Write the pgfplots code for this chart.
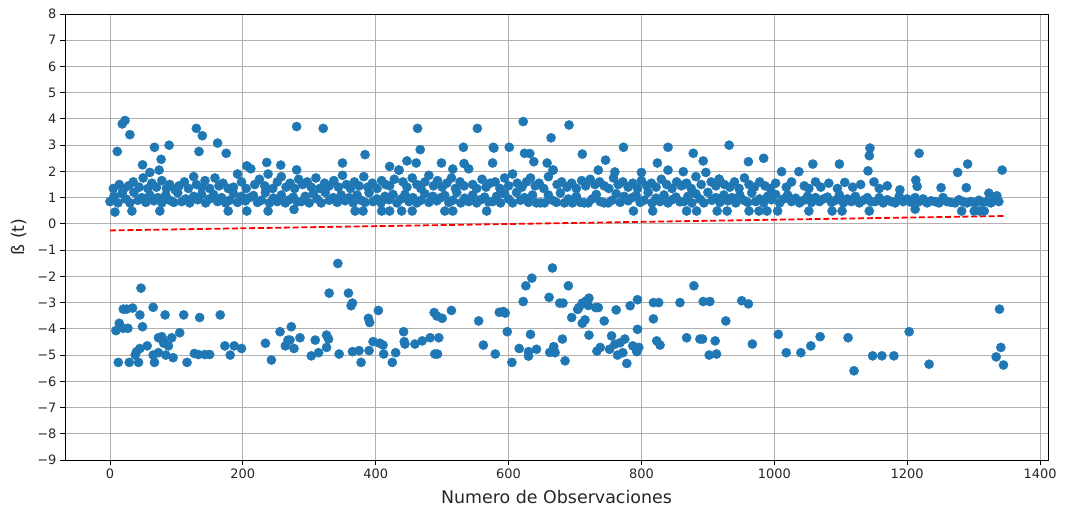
\documentclass[border=0pt]{standalone}
\usepackage{fontspec}
\setmainfont{DejaVu Sans}
\usepackage{pgfplots}
\pgfplotsset{compat=1.18}
\definecolor{mplblue}{HTML}{1F77B4}
\definecolor{gridgray}{HTML}{B0B0B0}
\begin{document}
\begin{tikzpicture}
\useasboundingbox (0,0) rectangle (1067bp,510bp);
\begin{axis}[
  at={(65bp,50bp)}, anchor=south west,
  scale only axis, width=983bp, height=446bp,
  xmin=-67.7, xmax=1412, ymin=-9, ymax=8,
  xtick={0,200,...,1400},
  ytick={-9,-8,...,8},
  yticklabels={−9,−8,−7,−6,−5,−4,−3,−2,−1,0,1,2,3,4,5,6,7,8},
  /pgf/number format/assume math mode=true,
  /pgf/number format/1000 sep={},
  tick label style={font=\fontsize{13}{15}\selectfont, color=black!85},
  grid=major,
  major grid style={gridgray, line width=0.9bp},
  axis line style={black, line width=0.9bp},
  tick style={black, line width=0.9bp},
  tick align=outside, major tick length=5bp,
  xtick pos=bottom, ytick pos=left,
  xlabel={Numero de Observaciones},
  ylabel={ß (t)},
  label style={font=\fontsize{17.5}{20}\selectfont, color=black!85},
  xlabel style={at={(axis description cs:0.5,-0.083)}, anchor=center},
  ylabel style={at={(axis description cs:-0.0468,0.5)}, anchor=center},
]
%% dense band around 1
\addplot[only marks, mark=*, mark size=4.6bp, mplblue, mark options={draw=mplblue, fill=mplblue}] coordinates {
(0,0.85)(6,1.05)(12,0.80)(18,1.15)(24,0.95)(30,0.80)(36,1.20)(42,0.90)(48,1.00)(54,0.82)(60,1.10)(66,0.88)
(72,1.00)(78,0.80)(84,1.10)(90,0.90)(96,0.82)(102,1.18)(108,0.85)(114,0.95)(120,0.80)(126,1.05)(132,0.92)(138,1.12)
(144,0.80)(150,0.95)(156,1.12)(162,0.85)(168,1.00)(174,0.80)(180,0.90)(186,1.15)(192,0.82)(198,1.05)(204,0.88)(210,1.00)
(216,1.08)(222,0.82)(228,0.90)(234,1.20)(240,0.80)(246,0.98)(252,0.85)(258,1.10)(264,0.80)(270,0.92)(276,1.02)(282,0.84)
(288,0.85)(294,1.05)(300,0.80)(306,1.15)(312,0.95)(318,0.80)(324,1.20)(330,0.90)(336,1.00)(342,0.82)(348,1.10)(354,0.88)
(360,1.00)(366,0.80)(372,1.10)(378,0.90)(384,0.82)(390,1.18)(396,0.85)(402,0.95)(408,0.80)(414,1.05)(420,0.92)(426,1.12)
(432,0.80)(438,0.95)(444,1.12)(450,0.85)(456,1.00)(462,0.80)(468,0.90)(474,1.15)(480,0.82)(486,1.05)(492,0.88)(498,1.00)
(504,1.08)(510,0.82)(516,0.90)(522,1.20)(528,0.80)(534,0.98)(540,0.85)(546,1.10)(552,0.80)(558,0.92)(564,1.02)(570,0.84)
(576,0.85)(582,1.05)(588,0.80)(594,1.15)(600,0.95)(606,0.80)(612,1.20)(618,0.90)(624,1.00)(630,0.82)(636,1.10)(642,0.80)
(648,0.80)(654,0.80)(660,1.10)(666,0.90)(672,0.82)(678,1.18)(684,0.80)(690,0.95)(696,0.80)(702,1.05)(708,0.82)(714,0.80)
(720,0.80)(726,0.95)(732,1.12)(738,0.85)(744,0.80)(750,0.80)(756,0.90)(762,1.15)(768,0.82)(774,1.05)(780,0.88)(786,1.00)
(792,1.08)(798,0.82)(804,0.90)(810,1.20)(816,0.80)(822,0.98)(828,0.85)(834,1.10)(840,0.80)(846,0.92)(852,1.02)(858,0.84)
(864,0.85)(870,1.05)(876,0.80)(882,1.15)(888,0.95)(894,0.80)(900,1.20)(906,0.90)(912,1.00)(918,0.82)(924,1.10)(930,0.88)
(936,1.00)(942,0.80)(948,1.10)(954,0.90)(960,0.82)(966,1.18)(972,0.85)(978,0.95)(984,0.80)(990,1.05)(996,0.92)(1002,1.12)
(1008,0.80)(1014,0.95)(1020,1.10)(1026,0.85)(1032,0.98)(1038,0.80)(1044,0.90)(1050,1.05)(1056,0.82)(1062,1.00)(1068,0.85)(1074,0.95)
(1080,1.02)(1086,0.82)(1092,0.90)(1098,1.10)(1104,0.80)(1110,0.95)(1116,0.85)(1122,1.05)(1128,0.80)(1134,0.90)(1140,1.00)(1146,0.84)
(1152,0.85)(1158,1.00)(1164,0.80)(1170,0.92)(1176,0.85)(1182,0.80)(1188,1.05)(1194,0.85)(1200,0.95)(1206,0.82)(1212,1.00)(1218,0.85)
(1224,0.95)(1230,0.80)(1236,0.88)(1242,0.85)(1248,0.80)(1254,1.00)(1260,0.85)(1266,0.82)(1272,0.80)(1278,0.92)(1284,0.85)(1290,0.80)
(1296,0.85)(1302,0.80)(1308,0.90)(1314,0.82)(1320,0.85)(1326,0.80)(1332,0.95)(1338,0.85)
%% scattered above the band
(5,1.35)(14,1.5)(20,1.3)(28,1.45)(35,1.6)(44,1.4)(50,1.75)(57,1.35)(63,1.55)(70,1.4)(78,1.65)(85,1.35)
(90,1.5)(98,1.3)(104,1.45)(112,1.6)(118,1.35)(126,1.8)(130,1.5)(138,1.4)(143,1.65)(150,1.35)(158,1.75)(164,1.45)
(170,1.55)(178,1.35)(186,1.4)(192,1.9)(198,1.6)(205,1.35)(212,2.1)(218,1.5)(225,1.7)(233,1.45)(238,1.9)(245,1.35)
(252,1.6)(258,1.8)(265,1.4)(271,1.55)(278,1.35)(284,1.7)(290,1.5)(297,1.6)(303,1.4)(310,1.75)(316,1.35)(323,1.55)
(330,1.45)(337,1.65)(344,1.4)(350,1.85)(356,1.5)(362,1.35)(368,1.6)(375,1.45)(382,1.8)(388,1.4)(395,1.55)(402,1.35)
(409,1.65)(415,1.5)(421,1.45)(428,1.7)(435,2.05)(441,1.6)(447,1.4)(455,1.75)(462,1.5)(468,1.35)(474,1.6)(480,1.85)
(487,1.45)(493,1.65)(500,1.4)(507,1.55)(514,1.75)(520,1.35)(527,1.6)(533,1.45)(540,2.1)(546,1.5)(552,1.35)(560,1.7)
(566,1.4)(572,1.55)(580,1.6)(587,1.35)(594,1.75)(600,1.45)(606,1.9)(613,1.55)(620,1.4)(627,1.6)(633,1.75)(640,1.45)
(646,1.55)(653,1.35)(660,1.8)(667,2.05)(673,1.5)(680,1.6)(688,1.4)(695,1.55)(702,1.35)(710,1.65)(716,1.45)(723,1.7)
(730,1.5)(737,1.6)(744,1.45)(751,1.35)(758,1.75)(765,1.5)(772,1.6)(780,1.4)(787,1.55)(794,1.35)(800,1.65)(808,1.45)
(815,1.55)(822,1.4)(830,1.7)(838,1.5)(846,1.35)(853,1.6)(860,1.45)(868,1.55)(875,1.35)(882,1.8)(890,1.5)(897,1.96)
(905,1.6)(912,1.45)(917,1.7)(925,1.5)(933,1.4)(940,1.6)(947,1.35)(955,1.75)(962,1.5)(970,1.4)(978,1.6)(986,1.45)
(994,1.35)(1002,1.55)(1011,1.99)(1018,1.4)(1026,1.6)(1037,1.99)(1045,1.45)(1052,1.35)(1062,1.6)(1070,1.4)(1082,1.55)(1095,1.35)
(1106,1.58)(1118,1.4)(1130,1.5)(1141,2.02)(1150,1.6)(1158,1.35)(1170,1.45)(1189,1.30)(1213,1.67)(1215,1.43)(1251,1.38)(1276,1.96)
(1289,1.38)(1323,1.17)(1335,1.07)
%% high outliers
(11,2.76)(18.5,3.81)(22.6,3.94)(30,3.40)(49,2.25)(60,1.96)(67,2.92)(74,2.05)(77,2.46)(89,3.0)(130,3.64)(134,2.76)
(139,3.36)(162,3.08)(175,2.69)(206,2.21)(236,2.34)(257,2.24)(281,3.71)(281,2.06)(321,3.64)(350,2.32)(384,2.64)(421,2.19)
(435,2.05)(447,2.40)(461,2.32)(463,3.64)(467,2.83)(499,2.32)(516,2.09)(532,2.92)(533,2.3)(553,3.64)(576,2.32)(577,2.92)
(578,2.89)(601,2.92)(622,3.90)(624,2.69)(632,2.68)(638,2.37)(658,2.32)(664,3.28)(667,2.05)(691,3.77)(711,2.66)(735,2.05)
(746,2.43)(760,1.98)(773,2.92)(800,1.96)(824,2.32)(840,2.92)(840,2.05)(863,1.99)(864,1.5)(878,2.69)(893,2.40)(917,1.70)
(932,3.0)(961,2.37)(984,2.50)(1058,2.28)(1098,2.28)(1143,2.6)(1144,2.89)(1218,2.69)(1291,2.28)(1343,2.05)
%% low edge of the band
(7.5,0.45)(33,0.49)(75,0.49)(178,0.49)(206,0.49)(238,0.49)(277,0.55)(369,0.49)(381,0.49)(409,0.49)(421,0.49)(439,0.49)
(455,0.49)(504,0.49)(516,0.49)(567,0.49)(788,0.49)(817,0.49)(868,0.49)(883,0.49)(914,0.49)(929,0.49)(962,0.49)(977,0.49)
(989,0.49)(1005,0.49)(1052,0.49)(1087,0.49)(1102,0.49)(1143,0.49)(1212,0.56)(1282,0.49)(1301,0.49)(1309,0.49)(1316,0.49)
%% negative group
(46.7,-2.45)(20,-3.25)(25,-3.25)(34,-3.21)(65,-3.18)(45,-3.47)(83,-3.47)(111,-3.47)(135,-3.57)(166,-3.47)(14,-3.79)(9,-4.07)
(20,-3.98)(27,-3.98)(49,-3.92)(105,-4.15)(78,-4.30)(73,-4.34)(80,-4.43)(93,-4.34)(81,-4.55)(88,-4.65)(56,-4.65)(45,-4.75)
(40,-4.87)(38,-5.0)(12.5,-5.28)(29,-5.28)(43,-5.28)(67,-5.28)(65,-5.0)(73,-4.91)(84,-5.0)(95,-5.10)(116,-5.28)(127,-4.94)
(133,-4.98)(143,-4.98)(150,-4.98)(181,-5.0)(173,-4.65)(187,-4.65)(198,-4.75)(234,-4.55)(243,-5.19)(256,-4.11)(273,-3.92)(268,-4.43)
(264,-4.65)(277,-4.75)(343,-1.51)(330,-2.64)(359,-2.64)(365,-3.02)(363,-3.12)(389,-3.6)(391,-3.76)(404,-3.30)(488,-3.38)(492,-3.51)
(500,-3.6)(514,-3.30)(555,-3.70)(586,-3.37)(271,-4.43)(286,-4.34)(309,-4.43)(326,-4.24)(329,-4.39)(326,-4.71)(303,-5.03)(314,-4.91)
(345,-4.96)(365,-4.87)(375,-4.83)(378,-5.28)(390,-4.83)(396,-4.49)(406,-4.55)(411,-4.62)(412,-4.96)(425,-5.28)(430,-4.91)(442,-4.11)
(443,-4.49)(444,-4.58)(459,-4.58)(470,-4.46)(482,-4.34)(495,-4.34)(489,-4.96)(493,-4.96)(562,-4.62)(580,-4.96)
(666,-1.68)(635,-2.07)(626,-2.36)(690,-2.36)(661,-2.80)(622,-2.96)(677,-3.02)(682,-3.02)(592,-3.34)(595,-3.4)(695,-3.57)(711,-3.02)
(717,-2.93)(721,-2.83)(720,-3.11)(731,-3.19)(735,-3.19)(706,-3.19)(704,-3.26)(715,-3.66)(711,-3.79)(744,-3.70)(762,-3.28)(783,-3.12)
(794,-2.89)(818,-3.0)(826,-3.0)(858,-3.0)(879,-2.36)(818,-3.62)(598,-4.11)(605,-5.28)(616,-4.75)(630,-4.87)(630,-5.04)(642,-4.78)
(662,-4.90)(668,-4.68)(670,-4.91)(681,-4.39)(633,-4.21)(685,-5.22)(721,-4.24)(733,-4.85)(738,-4.71)(752,-4.78)(755,-4.27)(760,-4.59)
(768,-4.53)(775,-4.39)(764,-5.0)(772,-4.91)(778,-5.32)(787,-4.65)(793,-4.87)(796,-4.71)(794,-4.02)(823,-4.46)(828,-4.62)(868,-4.34)
(888,-4.39)(893,-2.96)(903,-2.96)(951,-2.93)(961,-3.05)(927,-3.70)(892,-4.39)(911,-4.46)(902,-5.0)(913,-4.96)(967,-4.58)(1006,-4.21)
(1018,-4.91)(1040,-4.91)(1055,-4.65)(1069,-4.30)(1111,-4.34)(1120,-5.60)(1148,-5.03)(1162,-5.03)(1180,-5.03)(1203,-4.11)(1233,-5.35)
(1339,-3.25)(1341,-4.71)(1334,-5.07)(1345,-5.38)
};
%% trend line
\addplot[red, line width=1.8bp, dash pattern=on 6bp off 2.7bp] coordinates {(0,-0.25) (1345,0.30)};
\end{axis}
\end{tikzpicture}
\end{document}
